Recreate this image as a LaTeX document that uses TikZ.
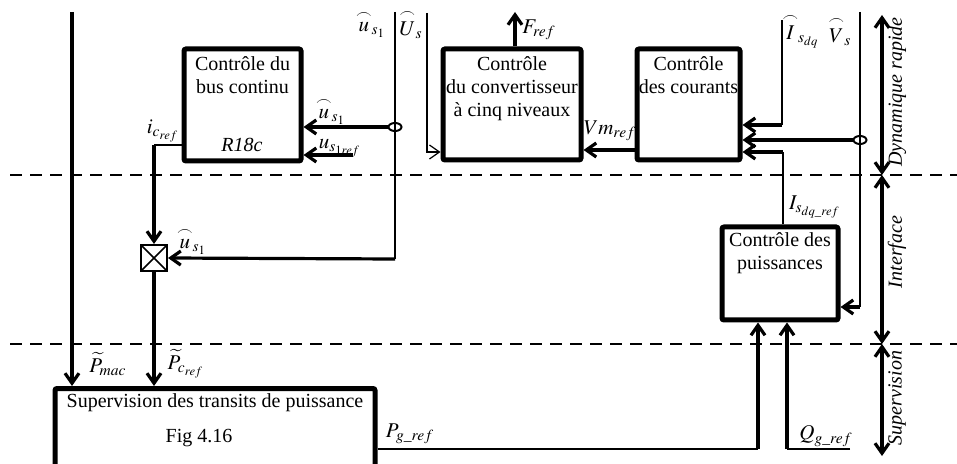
\documentclass[tikz,border=0pt]{standalone}
\usepackage{amsmath}
\usepackage{mathptmx}
\usepackage{fontspec}
\setmainfont{Liberation Serif}
\usetikzlibrary{arrows.meta,positioning,shapes.geometric}

\begin{document}
\begin{tikzpicture}[x=0.5pt, y=-0.5pt, >={Straight Barb[length=5pt,width=7pt]}, font=\fontsize{10}{11.5}\selectfont,
	blk/.style={draw, line width=2.5pt, rounded corners=1pt, inner sep=0pt},
	txt/.style={align=center, inner sep=1pt},
	lbl/.style={inner sep=0.5pt, font=\fontsize{10.5}{12}\selectfont},
	side/.style={rotate=90, inner sep=1pt, font=\itshape},
	jn/.style={draw, ellipse, line width=1pt, minimum width=6.5pt, minimum height=4pt, inner sep=0pt},
	thk/.style={line width=1.6pt},
	thn/.style={line width=0.6pt},
	sep/.style={line width=1.3pt, dash pattern=on 6pt off 4pt}]
	\useasboundingbox (0,0) rectangle (957,464);
	% blocs
	\node[blk, minimum width=58.5pt, minimum height=56pt] (bus) at (242.5,105) {};
	\node[blk, minimum width=69pt, minimum height=55.5pt] (conv) at (512,104.5) {};
	\node[blk, minimum width=51.5pt, minimum height=55.5pt] (cour) at (688.5,104.5) {};
	\node[blk, minimum width=58pt, minimum height=46.5pt] (puis) at (780,273.5) {};
	\node[blk, minimum width=160pt, minimum height=41pt] (sup) at (215,429.5) {};
	\node[draw, line width=1pt, minimum size=13pt, inner sep=0pt,
		path picture={\draw[line width=0.8pt] (path picture bounding box.south west) -- (path picture bounding box.north east)
			(path picture bounding box.north west) -- (path picture bounding box.south east);}] (mult) at (154,258) {};
	\node[txt, below=4pt of bus.north] (busT) {Contrôle du\\bus continu};
	\node[txt] (busR) at (242,145) {\textit{R18c}};
	\node[txt, below=4pt of conv.north] (convT) {Contrôle\\du convertisseur\\à cinq niveaux};
	\node[txt, below=4pt of cour.north] (courT) {Contrôle\\des courants};
	\node[txt, below=3pt of puis.north] (puisT) {Contrôle des\\puissances};
	\node[txt] (supT) at (215,403) {Supervision des transits de puissance};
	\node[txt] (supF) at (199,438) {Fig 4.16};
	% grandeurs
	\node[lbl] (lus1a) at (371,24) {$\overset{\frown}{u}_{s_1}$};
	\node[lbl] (lUs) at (411,24) {$\overset{\frown}{U}_{s}$};
	\node[lbl] (lFref) at (539,30) {$F_{ref}$};
	\node[lbl] (lIsdq) at (801,31) {$\overset{\frown}{I}_{s_{dq}}$};
	\node[lbl] (lVs) at (840,31) {$\overset{\frown}{V}_{s}$};
	\node[lbl] (lus1b) at (331,111) {$\overset{\frown}{u}_{s_1}$};
	\node[lbl] (lus1ref) at (340,148) {$u_{s_{1ref}}$};
	\node[lbl] (licref) at (163,131) {$i_{c_{ref}}$};
	\node[lbl] (lVm) at (610,131) {$Vm_{ref}$};
	\node[lbl] (lIsref) at (815,207) {$I_{s_{dq\_ref}}$};
	\node[lbl] (lus1c) at (192,241) {$\overset{\frown}{u}_{s_1}$};
	\node[lbl] (lPmac) at (108,364) {$\widetilde{P}_{mac}$};
	\node[lbl] (lPcref) at (186,364) {$\widetilde{P}_{c_{ref}}$};
	\node[lbl] (lPg) at (410,434) {$P_{g\_ref}$};
	\node[lbl] (lQg) at (826,436) {$Q_{g\_ref}$};
	% liaisons
	\coordinate (pmac) at (72,12);
	\draw[thk,->] (pmac) -- (pmac |- sup.north);
	\coordinate (us1top) at (395,12);
	\coordinate (us1bot) at (395,259);
	\draw[thn] (us1top) -- (us1bot);
	\draw[thk,->] (us1bot) -- (mult.east);
	\node[jn] (j1) at (395,127) {};
	\draw[thk,->] (j1.west) -- (j1 -| bus.east);
	\coordinate (us1ref) at (353,155);
	\draw[thk,->] (us1ref) -- (us1ref -| bus.east);
	\coordinate (icref) at (154,145);
	\draw[thn] (icref -| bus.west) -- (icref);
	\draw[thk,->] (icref) -- (mult.north);
	\draw[thk,->] (mult.south) -- (mult |- sup.north);
	\coordinate (Ustop) at (427,13);
	\coordinate (Usbot) at (427,152);
	\draw[thn,->] (Ustop) -- (Usbot) -- (Usbot -| conv.west);
	\coordinate (Fref) at (515,12);
	\draw[thk,->] (Fref |- conv.north) -- (Fref);
	\coordinate (vm) at (0,150);
	\draw[thk,->] (vm -| cour.west) -- (vm -| conv.east);
	\coordinate (Isdqtop) at (782,20);
	\coordinate (Isdqbot) at (782,125);
	\draw[thn] (Isdqtop) -- (Isdqbot);
	\draw[thk,->] (Isdqbot) -- (Isdqbot -| cour.east);
	\coordinate (Vstop) at (860,12);
	\coordinate (Vsbot) at (860,307);
	\draw[thn] (Vstop) -- (Vsbot);
	\draw[thk,->] (Vsbot) -- (Vsbot -| puis.east);
	\node[jn] (j2) at (860,140) {};
	\draw[thk,->] (j2.west) -- (j2 -| cour.east);
	\coordinate (Isref) at (783,152);
	\draw[thn] (Isref |- puis.north) -- (Isref);
	\draw[thk,->] (Isref) -- (Isref -| cour.east);
	\coordinate (Pg) at (758,449);
	\draw[thn] (Pg -| sup.east) -- (Pg);
	\draw[thk,->] (Pg) -- (Pg |- puis.south);
	\coordinate (Qgin) at (850,449);
	\coordinate (Qg) at (787,449);
	\draw[thn] (Qgin) -- (Qg);
	\draw[thk,->] (Qg) -- (Qg |- puis.south);
	% niveaux
	\draw[sep] (10,175) -- (957,175);
	\draw[sep] (10,344) -- (957,344);
	\coordinate (ax0) at (882,15);
	\coordinate (ax1) at (882,175);
	\coordinate (ax2) at (882,344);
	\coordinate (ax3) at (882,456);
	\draw[thk,<->] (ax0) -- (ax1);
	\draw[thk,<->] (ax1) -- (ax2);
	\draw[thk,<->] (ax2) -- (ax3);
	\node[side] (sDyn) at (897,92) {Dynamique rapide};
	\node[side] (sInt) at (897,252) {Interface};
	\node[side] (sSup) at (897,398) {Supervision};
\end{tikzpicture}
\end{document}
